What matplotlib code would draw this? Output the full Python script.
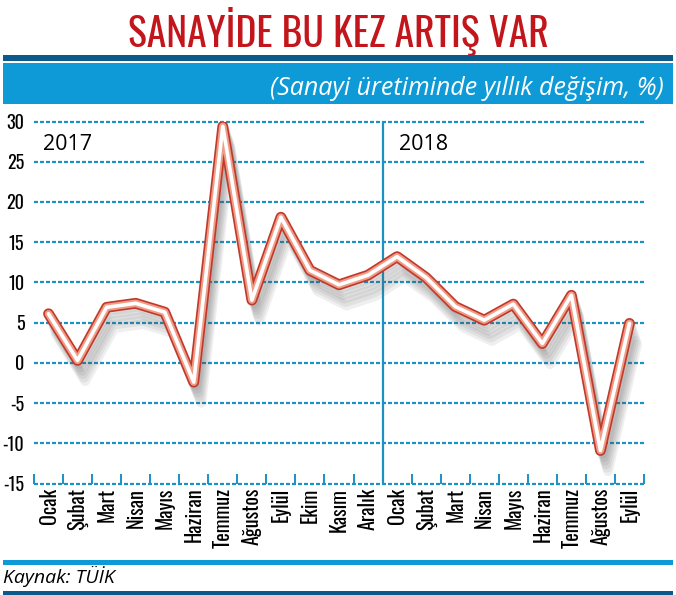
import numpy as np
import matplotlib
matplotlib.use("Agg")
import matplotlib.pyplot as plt
import matplotlib.patheffects as pe
from matplotlib.patches import Rectangle

# ── data ────────────────────────────────────────────────
months_2017 = ["Ocak", "Şubat", "Mart", "Nisan", "Mayıs", "Haziran", "Temmuz",
               "Ağustos", "Eylül", "Ekim", "Kasım", "Aralık"]
months_2018 = ["Ocak", "Şubat", "Mart", "Nisan", "Mayıs", "Haziran", "Temmuz",
               "Ağustos", "Eylül"]
values_2017 = [6.1, 0.3, 6.9, 7.4, 6.3, -2.4, 29.4, 7.8, 18.1, 11.5, 9.7, 10.9]
values_2018 = [13.2, 10.6, 7.0, 5.3, 7.3, 2.4, 8.4, -10.9, 4.9]
y_ticks = [30, 25, 20, 15, 10, 5, 0, -5, -10, -15]

labels = months_2017 + months_2018
values = values_2017 + values_2018
x = np.arange(len(values))

TITLE_FONT = ["Oswald", "DejaVu Sans"]
TICK_FONT = ["Oswald", "DejaVu Sans"]
TEXT_FONT = ["Open Sans", "DejaVu Sans"]
BLUE = "#1a93c4"
DARK = "#0c5a8b"
LIGHT = "#0e9ad6"
W, H = 676, 595

fig = plt.figure(figsize=(W / 100, H / 100), dpi=100)

def fy(py):
    return 1 - py / H

def band(y0, y1, color, x0=3, x1=673):
    fig.add_artist(Rectangle((x0 / W, fy(y1)), (x1 - x0) / W, (y1 - y0) / H,
                             transform=fig.transFigure, color=color, lw=0))

# header / footer bands
band(55, 61, DARK)
band(63, 104, LIGHT)
band(560, 565, LIGHT)
band(591, 595, DARK)

fig.text(338 / W, fy(47), "SANAYİDE BU KEZ ARTIŞ VAR", ha="center", va="baseline",
         fontsize=28.5, color="#c3161c", family=TITLE_FONT)
fig.text(664 / W, fy(95), "(Sanayi üretiminde yıllık değişim, %)", ha="right",
         va="baseline", fontsize=18, color="white", style="italic",
         family=TEXT_FONT)
fig.text(3 / W, fy(583), "Kaynak: TÜİK", ha="left", va="baseline", fontsize=14,
         style="italic", family=TEXT_FONT)

# ── chart ───────────────────────────────────────────────
ax = fig.add_axes([34 / W, 111.5 / H, 610 / W, 362 / H])
ax.set_xlim(-0.5, len(values) - 0.5)
ax.set_ylim(-15, 30)
for s in ax.spines.values():
    s.set_visible(False)

ax.hlines(y_ticks, -0.5, len(values) - 0.5, colors=BLUE, lw=1.6,
          linestyles=(0, (1.8, 0.9)), clip_on=False, zorder=1)
ax.axvline(len(months_2017) - 0.5, color=BLUE, lw=1.6, zorder=1)

ax.set_yticks(y_ticks)
ax.set_yticklabels([str(v) for v in y_ticks], family=TICK_FONT, fontsize=13)
ax.tick_params(axis="y", length=0, pad=7)

ax.set_xticks(x)
ax.set_xticklabels(labels, rotation=90, family=TICK_FONT, fontsize=14.5, va="top")
ax.set_xticks(np.arange(-0.5, len(values), 1), minor=True)
ax.tick_params(axis="x", which="major", length=0, pad=3)
ax.tick_params(axis="x", which="minor", direction="in", length=7, width=1.4,
               color=BLUE)

ax.text(-0.18, 26.4, "2017", fontsize=15.5, family=TEXT_FONT)
ax.text(12.05, 26.4, "2018", fontsize=15.5, family=TEXT_FONT)

shadow = [pe.SimpleLineShadow(offset=(1.5 + 0.8 * k, -2.5 - 2.5 * k),
                              shadow_color="#555555", alpha=0.09, linewidth=7)
          for k in range(6)]
tube = [pe.Stroke(linewidth=7.8, foreground="#c0392a"),
        pe.Stroke(linewidth=5.4, foreground="#ef9c88"),
        pe.Stroke(linewidth=2.6, foreground="white")]
ax.plot(x, values, color="white", lw=2.6, solid_joinstyle="round",
        solid_capstyle="round", path_effects=shadow + tube, zorder=3)

fig.savefig("out.png", dpi=100)
